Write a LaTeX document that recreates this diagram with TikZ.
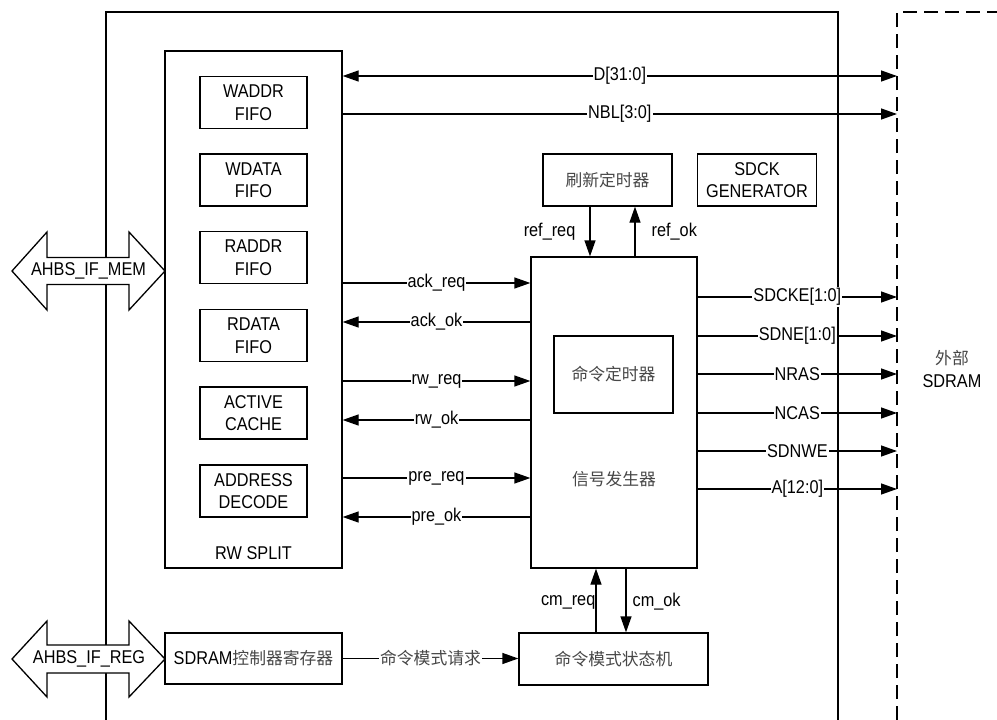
\documentclass[tikz,border=0pt]{standalone}
\usepackage{fontspec}
\setmainfont[FakeStretch=0.88]{Liberation Sans}
\newfontfamily\cjk{Noto Sans CJK SC}
\usetikzlibrary{arrows.meta,calc}
\begin{document}
\begin{tikzpicture}[x=1pt,y=-1pt,line width=1.3pt,
  font=\fontsize{18.5}{22.5}\selectfont,
  box/.style={draw,line width=1.3pt,inner sep=0pt,align=center},
  fifo/.style={box,minimum width=107pt,minimum height=52pt},
  sig/.style={-{Triangle[length=16pt,width=11pt]}},
  bisig/.style={{Triangle[length=16pt,width=11pt]}-{Triangle[length=16pt,width=11pt]}},
  lab/.style={fill=white,inner sep=1pt},
  cn/.style={font=\cjk\fontsize{16.8}{20}\selectfont,text=black!72},
  busarrow/.style={draw,fill=white,line width=1.3pt,line join=miter}]
\useasboundingbox (0,0) rectangle (997,720);

% outer frame and external SDRAM boundary
\draw (106,720) -- (106,12) -- (838,12) -- (838,720);
\draw[dash pattern=on 14pt off 7pt] (897,720) -- (897,12) -- (997,12);

% RW split block
\node[box,minimum width=177pt,minimum height=517pt] (rw) at (253.5,309.5) {};
\node (rwl) at (253.5,553) {RW SPLIT};
\node[fifo] (waddr) at (253.5,102.5) {WADDR\\FIFO};
\node[fifo] (wdata) at (253.5,180) {WDATA\\FIFO};
\node[fifo] (raddr) at (253.5,257.5) {RADDR\\FIFO};
\node[fifo] (rdata) at (253.5,335.5) {RDATA\\FIFO};
\node[fifo] (acache) at (253.5,413) {ACTIVE\\CACHE};
\node[fifo] (adec) at (253.5,491) {ADDRESS\\DECODE};

% other blocks
\node[box,minimum width=129pt,minimum height=52pt,cn] (ref) at (607.5,180) {刷新定时器};
\node[box,minimum width=119pt,minimum height=52pt] (sdck) at (757,180) {SDCK\\GENERATOR};
\node[box,minimum width=166pt,minimum height=311pt] (sig) at (614,412.5) {};
\node[box,minimum width=119pt,minimum height=77pt,cn] (cmt) at (613.5,374.5) {命令定时器};
\node[cn] (sigl) at (614,479) {信号发生器};
\node[box,minimum width=177pt,minimum height=51pt] (reg) at (253.5,658.5) {SDRAM{\cjk\fontsize{16.8}{20}\selectfont\color{black!72}控制器寄存器}};
\node[box,minimum width=189pt,minimum height=52pt,cn] (cmsm) at (613.5,659) {命令模式状态机};
\node[align=center] (ext) at (952,369) {{\cjk\fontsize{16.8}{20}\selectfont\color{black!72}外部}\\SDRAM};

% AHB bus arrows
\draw[busarrow] (12,271) -- (47,232) -- (47,257.5) -- (129,257.5) -- (129,232) -- (165,271)
  -- (129,310) -- (129,284.5) -- (47,284.5) -- (47,310) -- cycle;
\node (mem) at (88.5,271) {AHBS\_IF\_MEM};
\draw[busarrow] (12,659) -- (47,621) -- (47,645) -- (129,645) -- (129,621) -- (165,659)
  -- (129,697) -- (129,673) -- (47,673) -- (47,697) -- cycle;
\node (regbus) at (89,659) {AHBS\_IF\_REG};

% data bus to SDRAM
\coordinate (dD) at (897,76);
\coordinate (dN) at (897,114);
\draw[bisig] (rw.east |- dD) -- (dD) node[lab,pos=0.5] {D[31:0]};
\draw[sig] (rw.east |- dN) -- (dN) node[lab,pos=0.5] {NBL[3:0]};

% handshakes between RW split and signal generator
\draw[sig] (rw.east |- 0,283) -- (sig.west |- 0,283) node[lab,midway] {ack\_req};
\draw[sig] (sig.west |- 0,322) -- (rw.east |- 0,322) node[lab,midway] {ack\_ok};
\draw[sig] (rw.east |- 0,381) -- (sig.west |- 0,381) node[lab,midway] {rw\_req};
\draw[sig] (sig.west |- 0,420) -- (rw.east |- 0,420) node[lab,midway] {rw\_ok};
\draw[sig] (rw.east |- 0,478) -- (sig.west |- 0,478) node[lab,midway] {pre\_req};
\draw[sig] (sig.west |- 0,517) -- (rw.east |- 0,517) node[lab,midway] {pre\_ok};

% refresh timer handshake
\coordinate (xrq) at (590,0);
\coordinate (xrk) at (635,0);
\draw[sig] (ref.south -| xrq) -- (sig.north -| xrq);
\draw[sig] (sig.north -| xrk) -- (ref.south -| xrk);
\node[anchor=east,inner sep=0pt] (refreql) at (576,232) {ref\_req};
\node[anchor=west,inner sep=0pt] (refokl) at (651,232) {ref\_ok};

% command mode handshake
\coordinate (xcq) at (596,0);
\coordinate (xck) at (626,0);
\draw[sig] (cmsm.north -| xcq) -- (sig.south -| xcq);
\draw[sig] (sig.south -| xck) -- (cmsm.north -| xck);
\node[anchor=east,inner sep=0pt] (cmreql) at (596,602) {cm\_req};
\node[anchor=west,inner sep=0pt] (cmokl) at (632,602) {cm\_ok};
\draw[sig] (reg.east) -- (cmsm.west |- reg.east) node[lab,pos=0.5,cn] {命令模式请求};

% outputs to SDRAM
\coordinate (o1) at (897,297);
\coordinate (o2) at (897,336);
\coordinate (o3) at (897,374);
\coordinate (o4) at (897,413);
\coordinate (o5) at (897,451);
\coordinate (o6) at (897,489);
\draw[sig] (sig.east |- o1) -- (o1) node[lab,midway] {SDCKE[1:0]};
\draw[sig] (sig.east |- o2) -- (o2) node[lab,midway] {SDNE[1:0]};
\draw[sig] (sig.east |- o3) -- (o3) node[lab,midway] {NRAS};
\draw[sig] (sig.east |- o4) -- (o4) node[lab,midway] {NCAS};
\draw[sig] (sig.east |- o5) -- (o5) node[lab,midway] {SDNWE};
\draw[sig] (sig.east |- o6) -- (o6) node[lab,midway] {A[12:0]};
\end{tikzpicture}
\end{document}
